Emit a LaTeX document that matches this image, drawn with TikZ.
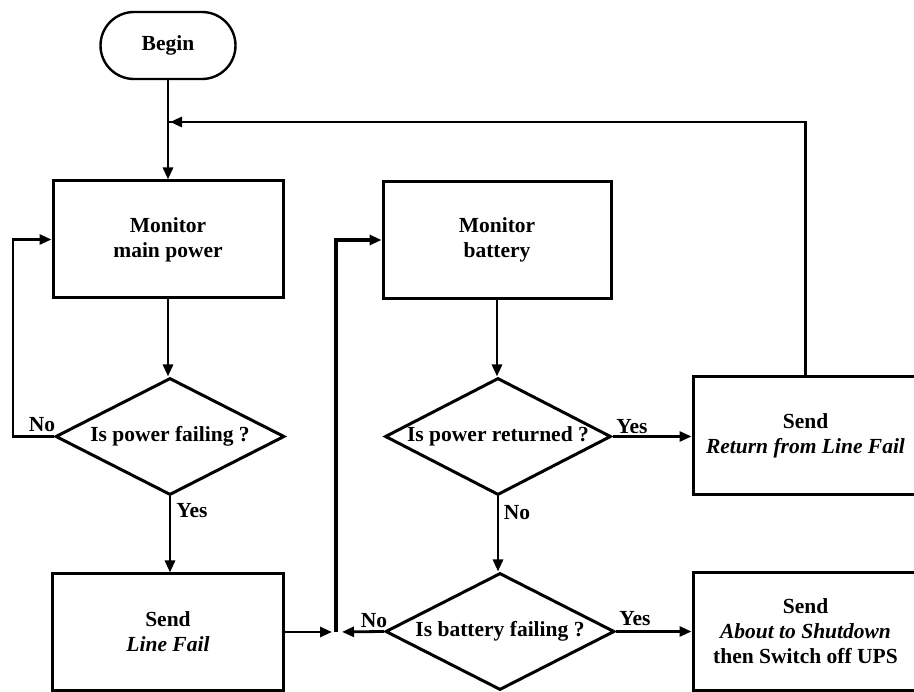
\documentclass[tikz,border=0pt]{standalone}
\usepackage{fontspec}
\setmainfont{Liberation Serif}
\usetikzlibrary{arrows.meta,shapes.geometric,shapes.misc}

\begin{document}
\begin{tikzpicture}[x=1pt,y=-1pt,
  font=\fontsize{21.5}{25}\selectfont\bfseries,
  terminal/.style={draw, rounded rectangle, line width=2.4pt,
    minimum width=135pt, minimum height=67pt, inner sep=0pt},
  box/.style={draw, rectangle, line width=3pt, align=center,
    minimum width=229pt, minimum height=117pt, inner sep=0pt},
  decision/.style={draw, diamond, aspect=2, line width=3pt, inner sep=0pt,
    minimum width=229pt, minimum height=117pt},
  flow/.style={line width=2.8pt, -{Triangle[length=12pt,width=10pt]}},
  link/.style={line width=2.6pt},
  lbl/.style={anchor=base, inner sep=0pt}]

\useasboundingbox (0,0) rectangle (914,692);
\clip (0,0) rectangle (914,692);

% left column
\node[terminal] (begin) at (168,45.5) {Begin};
\node[box, minimum width=230pt] (mmp) at (168,239.5) {Monitor\\main power};
\node[decision] (d1) at (170,436.5) {Is power failing ?};
\node[box, minimum width=231pt, minimum height=116pt] (lf) at (168,632) {Send\\\textit{Line Fail}};

% middle column
\node[box, minimum width=228pt] (mb) at (497,240) {Monitor\\battery};
\node[decision, minimum width=226pt] (d2) at (498,436.5) {Is power returned ?};
\node[decision] (d3) at (500,631.5) {Is battery failing ?};

% right column
\node[box, minimum width=225pt, minimum height=118pt] (sr) at (805.5,436) {Send\\\textit{Return from Line Fail}};
\node[box, minimum width=225pt] (sa) at (805.5,631.5) {Send\\\textit{About to Shutdown}\\then Switch off UPS};

% routing points
\coordinate (ret) at (168,122);
\coordinate (nlb) at (13,436.5);
\coordinate (jn) at (336,632);

% main power loop
\draw[flow] (begin.south) -- (begin.south |- mmp.north);
\draw[link] (sr.north) |- (ret);
\draw[flow] (sr.north |- ret) -- ([xshift=2pt]ret);
\draw[flow] (mmp.south) -- (mmp.south |- d1.north);
\draw[flow] (d1.west) -- (nlb) |- (mmp.west);
\draw[flow] (d1.south) -- (d1.south |- lf.north);

% junction into battery monitoring
\draw[flow, shorten >=4pt] (lf.east) -- (jn);
\draw[flow, shorten >=6pt] (d3.west) -- (jn);
\draw[flow, line width=3.4pt] (jn) |- (mb.west);

% battery loop
\draw[flow] (mb.south) -- (mb.south |- d2.north);
\draw[flow] (d2.east) -- (d2.east -| sr.west);
\draw[flow] (d2.south) -- (d2.south |- d3.north);
\draw[flow] (d3.east) -- (d3.east -| sa.west);

% branch labels
\node[lbl] at (42,432) {No};
\node[lbl] at (192,518) {Yes};
\node[lbl] at (632,434) {Yes};
\node[lbl] at (517,520) {No};
\node[lbl] at (374,627) {No};
\node[lbl] at (635,626) {Yes};
\end{tikzpicture}
\end{document}
